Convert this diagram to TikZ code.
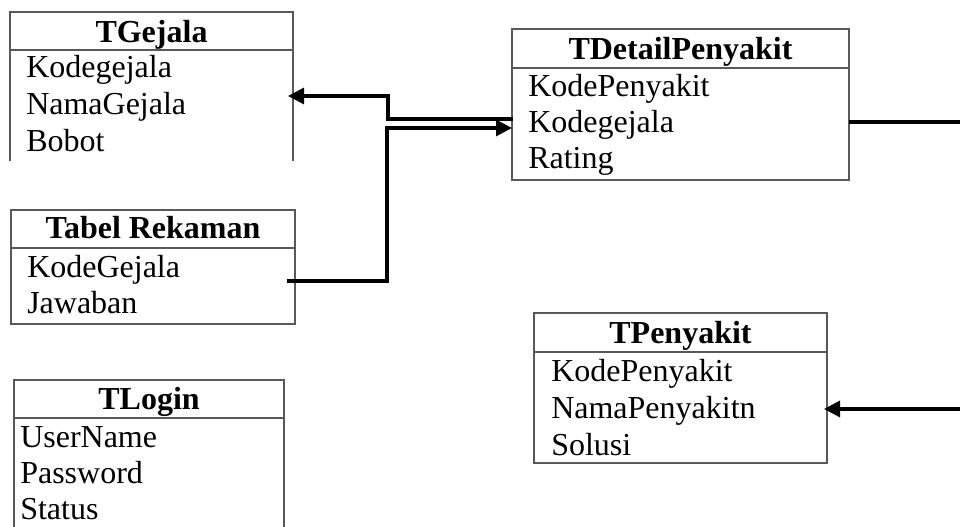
\documentclass[tikz,border=0pt]{standalone}
\usepackage{fontspec}
\setmainfont{Liberation Serif}
\usetikzlibrary{arrows.meta}

\tikzset{
  bingkai/.style={draw=black!65, line width=0.9pt},
  judul/.style={anchor=base, inner sep=0pt, font=\fontsize{24}{29}\selectfont\bfseries},
  kolom/.style={anchor=base west, inner sep=0pt, font=\fontsize{24}{29}\selectfont},
  garis/.style={line width=2.3pt},
  relasi/.style={garis, -{Triangle[length=12pt,width=12pt]}}
}

\begin{document}
\begin{tikzpicture}[x=0.75pt, y=-0.75pt]
        \useasboundingbox (0,0) rectangle (960,527);
        % TGejala (bawah terbuka)
        \draw[bingkai] (10,161) |- (293,12) -- (293,161);
        \draw[bingkai] (10,50) -- (293,50);
        \node[judul] (gejala) at (151.5,43) {TGejala};
        \foreach \i/\teks in {1/Kodegejala,2/NamaGejala,3/Bobot}
          \node[kolom] (gejala-\i) at (26,41+37*\i) {\teks};
        % TDetailPenyakit
        \draw[bingkai] (512,29) rectangle (849,180);
        \draw[bingkai] (512,68) -- (849,68);
        \node[judul] (detail) at (680.5,60) {TDetailPenyakit};
        \foreach \i/\teks in {1/KodePenyakit,2/Kodegejala,3/Rating}
          \node[kolom] (detail-\i) at (528,61+36*\i) {\teks};
        % Tabel Rekaman
        \draw[bingkai] (11,210) rectangle (295,324);
        \draw[bingkai] (11,248) -- (295,248);
        \node[judul] (rekaman) at (153,239) {Tabel Rekaman};
        \foreach \i/\teks in {1/KodeGejala,2/Jawaban}
          \node[kolom] (rekaman-\i) at (27,241+36*\i) {\teks};
        % TPenyakit
        \draw[bingkai] (534,313) rectangle (827,463);
        \draw[bingkai] (534,352) -- (827,352);
        \node[judul] (penyakit) at (680.5,344) {TPenyakit};
        \foreach \i/\teks in {1/KodePenyakit,2/NamaPenyakitn,3/Solusi}
          \node[kolom] (penyakit-\i) at (551,344+37*\i) {\teks};
        % TLogin (bawah terbuka)
        \draw[bingkai] (14,527) |- (284,380) -- (284,527);
        \draw[bingkai] (14,418) -- (284,418);
        \node[judul] (login) at (149,409) {TLogin};
        \foreach \i/\teks in {1/UserName,2/Password,3/Status}
          \node[kolom] (login-\i) at (20,411+36*\i) {\teks};
        % ujung relasi
        \coordinate (detail-kiri) at (513,119);
        \coordinate (gejala-panah) at (288,96);
        \coordinate (rekaman-kanan) at (287,281);
        \coordinate (detail-panah) at (512,128);
        \coordinate (detail-kanan) at (849,122);
        \coordinate (tepi-atas) at (960,122);
        \coordinate (tepi-bawah) at (960,409);
        \coordinate (penyakit-panah) at (824,409);
        \draw[relasi] (detail-kiri) -- ++(-125,0) |- (gejala-panah);
        \draw[relasi] (rekaman-kanan) -- ++(100,0) |- (detail-panah);
        \draw[garis] (detail-kanan) -- (tepi-atas);
        \draw[relasi] (tepi-bawah) -- (penyakit-panah);
\end{tikzpicture}
\end{document}
